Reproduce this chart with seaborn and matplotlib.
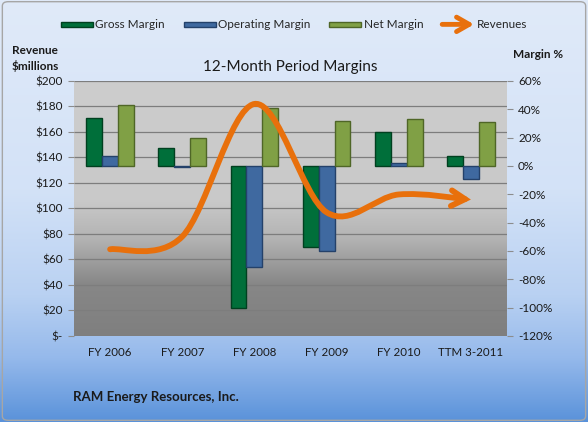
import numpy as np
import pandas as pd
import matplotlib
matplotlib.use("Agg")
import matplotlib.pyplot as plt
import seaborn as sns
from matplotlib.colors import LinearSegmentedColormap
from matplotlib.path import Path
from matplotlib.patches import FancyArrowPatch, FancyBboxPatch, Patch, Rectangle
from matplotlib.legend_handler import HandlerPatch
from matplotlib.ticker import FuncFormatter, MultipleLocator
from matplotlib.transforms import blended_transform_factory

# --- data ---
periods = ['FY 2006', 'FY 2007', 'FY 2008', 'FY 2009', 'FY 2010', 'TTM 3-2011']
gross_margin = [34, 13, -100, -57, 24, 7]
operating_margin = [7, -1, -71, -60, 2, -9]
net_margin = [43, 20, 41, 32, 33, 31]
revenues = [68, 78, 182, 97, 111, 107]

metrics = ['Gross Margin', 'Operating Margin', 'Net Margin']
bar_colors = ['#006f3a', '#3f69a0', '#80a045']
edge_colors = ['#00401f', '#24416a', '#4f6627']
line_color = '#e8700c'

df = pd.DataFrame({
    'Period': periods * 3,
    'Metric': np.repeat(metrics, len(periods)),
    'Margin': gross_margin + operating_margin + net_margin,
})

sns.set_style("white")
plt.rcParams['font.family'] = ['Lato', 'DejaVu Sans']

fig = plt.figure(figsize=(5.88, 4.22), dpi=100)

# --- figure background gradient (light blue -> blue) ---
bg = fig.add_axes([0, 0, 1, 1], zorder=-10)
bg_cmap = LinearSegmentedColormap.from_list('bg', [
    (0.0, '#e0eaf9'), (0.45, '#d3e2f7'), (0.7, '#b9d1f2'),
    (0.85, '#95b9eb'), (1.0, '#5a92da')])
bg.imshow(np.linspace(0, 1, 256).reshape(-1, 1), cmap=bg_cmap, aspect='auto',
          extent=[0, 1, 0, 1], origin='upper')
bg.set_axis_off()
fig.patches.append(FancyBboxPatch((0.004, 0.004), 0.992, 0.992,
                                  boxstyle='round,pad=0,rounding_size=0.01',
                                  transform=fig.transFigure, fill=False,
                                  edgecolor='#a6a6a6', lw=1))

# --- main axes: margins (right axis), revenue twin (left axis) ---
ax = fig.add_axes([0.1259, 0.2038, 0.7363, 0.6043])
ax.set_facecolor('none')
pa_cmap = LinearSegmentedColormap.from_list('pa', [
    (0.0, '#cdcdcd'), (0.47, '#c9c9c9'), (0.62, '#b3b3b3'),
    (0.8, '#878787'), (1.0, '#7f7f7f')])
ax.imshow(np.linspace(0, 1, 256).reshape(-1, 1), cmap=pa_cmap, aspect='auto',
          extent=[0, 1, 0, 1], origin='upper', transform=ax.transAxes, zorder=0)

sns.barplot(data=df, x='Period', y='Margin', hue='Metric', hue_order=metrics,
            palette=bar_colors, saturation=1, width=0.66, ax=ax,
            legend=False, zorder=3)
for cont, ec in zip(ax.containers, edge_colors):
    for bar in cont:
        bar.set_edgecolor(ec)
        bar.set_linewidth(1.0)
        bar.set_zorder(3)

ax.set_xlim(-0.5, len(periods) - 0.5)
ax.set_ylim(-120, 60)
ax.yaxis.set_major_locator(MultipleLocator(20))
ax.yaxis.set_major_formatter(FuncFormatter(lambda v, p: f'{v:.0f}%'))
ax.set_xlabel('')
ax.set_ylabel('')

ax2 = ax.twinx()
ax.yaxis.tick_right()
ax2.yaxis.tick_left()
ax2.set_ylim(0, 200)
ax2.yaxis.set_major_locator(MultipleLocator(20))
ax2.yaxis.set_major_formatter(
    FuncFormatter(lambda v, p: '$-' if v == 0 else f'${v:.0f}'))

# gridlines follow the revenue axis, drawn behind the bars
grid_tr = blended_transform_factory(ax.transAxes, ax2.transData)
for v in np.arange(0, 201, 20):
    ax.plot([0, 1], [v, v], transform=grid_tr, color='#7d7d7d', lw=0.9,
            zorder=1, solid_capstyle='butt')

for a in (ax, ax2):
    for s in a.spines.values():
        s.set_visible(False)
ax.tick_params(axis='y', which='major', right=True, left=False, length=4,
               color='#8c8c8c', labelsize=8.5, pad=4, labelcolor='#1a1a1a')
ax2.tick_params(axis='y', which='major', left=True, right=False, length=4,
                color='#8c8c8c', labelsize=8.5, pad=4, labelcolor='#1a1a1a')
ax.tick_params(axis='x', length=0, labelsize=8.3, pad=8, labelcolor='#1a1a1a')

# --- smoothed revenue line with arrow head (Excel-style smoothing) ---
pts = [(i, r) for i, r in enumerate(revenues)]
ext = [pts[0]] + pts + [pts[-1]]
verts = [pts[0]]
codes = [Path.MOVETO]
for i in range(len(pts) - 1):
    p0, p1, p2, p3 = ext[i], ext[i + 1], ext[i + 2], ext[i + 3]
    c1 = (p1[0] + (p2[0] - p0[0]) / 6, p1[1] + (p2[1] - p0[1]) / 6)
    c2 = (p2[0] - (p3[0] - p1[0]) / 6, p2[1] - (p3[1] - p1[1]) / 6)
    verts += [c1, c2, p2]
    codes += [Path.CURVE4] * 3
rev_path = Path(verts, codes)
arrow = FancyArrowPatch(path=rev_path, arrowstyle='->,head_length=0.7,head_width=0.4',
                        mutation_scale=14, color=line_color, lw=4.2,
                        transform=ax2.transData, zorder=5,
                        capstyle='round', joinstyle='miter')
ax2.add_patch(arrow)

# --- texts ---
ax.set_title('12-Month Period Margins', fontsize=11, pad=7, color='#1a1a1a')
fig.text(12 / 588, 1 - 51 / 422, 'Revenue', fontsize=8.5, fontweight='bold',
         ha='left', va='center', color='#1a1a1a')
fig.text(12 / 588, 1 - 66 / 422, '$millions', fontsize=8.5, fontweight='bold',
         ha='left', va='center', color='#1a1a1a')
fig.text(513 / 588, 1 - 55 / 422, 'Margin %', fontsize=8.5, fontweight='bold',
         ha='left', va='center', color='#1a1a1a')
fig.text(73 / 588, 1 - 397 / 422, 'RAM Energy Resources, Inc.', fontsize=9.5,
         fontweight='bold', ha='left', va='center', color='#1a1a1a')


# --- legend ---
class ArrowHandler(HandlerPatch):
    def create_artists(self, legend, orig_handle, xdescent, ydescent,
                       width, height, fontsize, trans):
        p = FancyArrowPatch((-xdescent, height / 2 - ydescent),
                            (width - xdescent, height / 2 - ydescent),
                            arrowstyle='->,head_length=0.7,head_width=0.4',
                            mutation_scale=13, color=line_color, lw=3.5,
                            shrinkA=0, shrinkB=0)
        p.set_transform(trans)
        return [p]


def thin_bar(legend, orig_handle, xdescent, ydescent, width, height, fontsize):
    h = 3.6
    return Rectangle((-xdescent, height / 2 - ydescent - h / 2), width, h)


handles = [Patch(facecolor=c, edgecolor=e, lw=1) for c, e in zip(bar_colors, edge_colors)]
handles.append(FancyArrowPatch((0, 0), (1, 0)))
fig.legend(handles, metrics + ['Revenues'], loc='center',
           bbox_to_anchor=(294 / 588, 1 - 25 / 422), ncol=4, frameon=False,
           fontsize=8.5, handlelength=2.7, handletextpad=0.2,
           columnspacing=1.6,
           handler_map={FancyArrowPatch: ArrowHandler(),
                        Patch: HandlerPatch(patch_func=thin_bar)})

fig.savefig('out.png', dpi=100)
